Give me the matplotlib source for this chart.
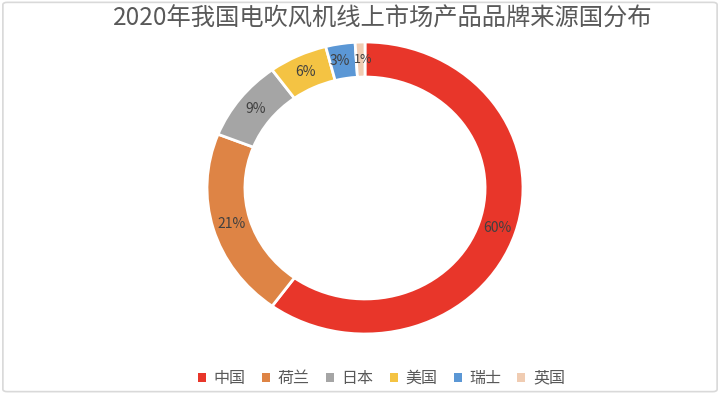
import matplotlib.pyplot as plt
from matplotlib.patches import FancyBboxPatch

plt.rcParams['font.family'] = ['Noto Sans CJK SC', 'DejaVu Sans']

# data
countries = ['中国', '荷兰', '日本', '美国', '瑞士', '英国']
shares = [60, 21, 9, 6, 3, 1]
colors = ['#E8362A', '#DE8445', '#A5A5A5', '#F4C343', '#5B97D5', '#F0CCB2']

title = '2020年我国电吹风机线上市场产品品牌来源国分布'

fig = plt.figure(figsize=(7.2, 3.94), dpi=100)

# thin frame round the picture
frame = FancyBboxPatch((0.004, 0.006), 0.992, 0.988, boxstyle='round,pad=0,rounding_size=0.006',
                       transform=fig.transFigure, facecolor='none', edgecolor='#D9D9D9', linewidth=1.2)
fig.patches.append(frame)

# donut is a bit wider than tall in the reference, so let the axes stretch it
W, H = 720, 394
cx, cy = 365, 188
rx, ry = 158, 146
ax = fig.add_axes([(cx - rx) / W, (H - cy - ry) / H, 2 * rx / W, 2 * ry / H])

wedges, texts, autotexts = ax.pie(shares, colors=colors, startangle=90, counterclock=False,
                                  radius=1.0, autopct='%d%%', pctdistance=0.88,
                                  wedgeprops=dict(width=0.24, edgecolor='white', linewidth=2),
                                  textprops=dict(color='#404040', fontsize=10))
# the two thin slices sit close together, nudge their labels apart a little
autotexts[4].set_x(autotexts[4].get_position()[0] - 0.02)
autotexts[5].set_x(autotexts[5].get_position()[0] + 0.015)
autotexts[5].set_fontsize(9)
ax.set_aspect('auto')
ax.set_xlim(-1, 1)
ax.set_ylim(-1, 1)
ax.axis('off')

fig.text(0.532, 0.952, title, ha='center', va='center', fontsize=17.5, color='#595959')

leg = fig.legend(wedges, countries, loc='center', bbox_to_anchor=(0.53, 0.04), ncol=6,
                 frameon=False, fontsize=11.5, handlelength=0.5, handleheight=0.5,
                 handletextpad=0.5, columnspacing=1.0)
for t in leg.get_texts():
    t.set_color('#595959')
for h in leg.legend_handles:
    h.set_edgecolor('none')

fig.savefig('out.png', dpi=100)
